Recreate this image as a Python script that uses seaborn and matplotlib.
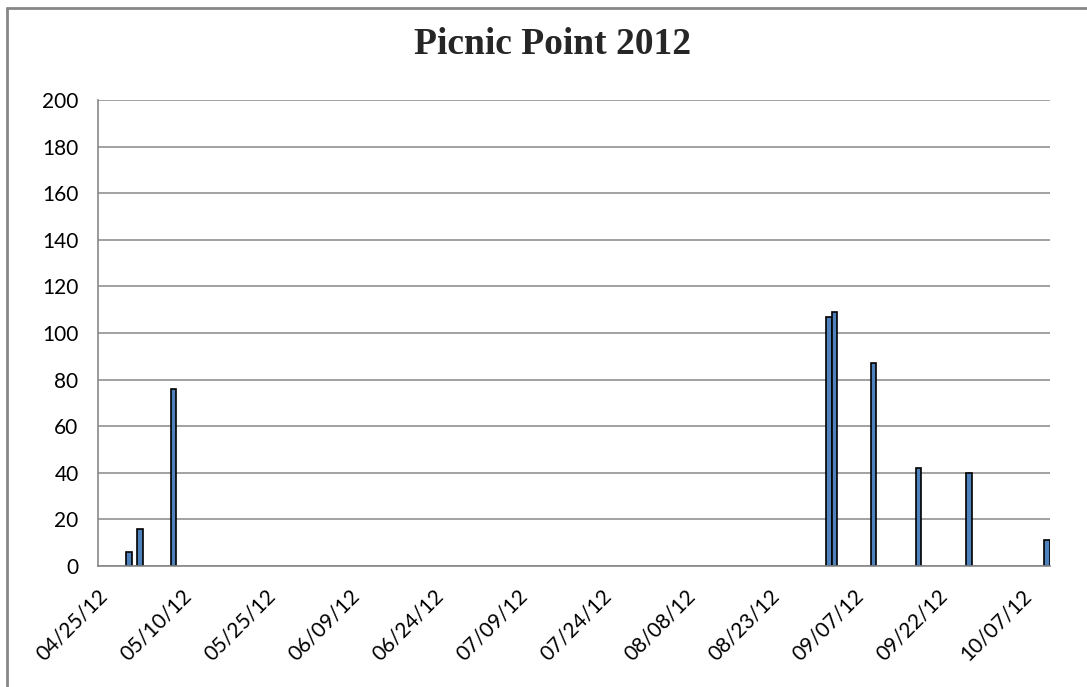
import datetime as dt
import matplotlib
matplotlib.use("Agg")
import matplotlib.pyplot as plt
import matplotlib.dates as mdates
import matplotlib.transforms as mtransforms
from matplotlib.lines import Line2D
import pandas as pd
import seaborn as sns

# =========================
# data
# =========================
visit_dates = ["2012-04-30", "2012-05-02", "2012-05-08", "2012-09-02", "2012-09-03",
               "2012-09-10", "2012-09-18", "2012-09-27", "2012-10-11"]
counts = [6, 16, 76, 107, 109, 87, 42, 40, 11]

tick_dates = ["2012-04-25", "2012-05-10", "2012-05-25", "2012-06-09", "2012-06-24",
              "2012-07-09", "2012-07-24", "2012-08-08", "2012-08-23", "2012-09-07",
              "2012-09-22", "2012-10-07"]
y_ticks = list(range(0, 201, 20))

df = pd.DataFrame({"date": pd.to_datetime(visit_dates), "count": counts})
df["x"] = mdates.date2num(df["date"].dt.to_pydatetime())

# =========================
# style
# =========================
sns.set_theme(style="white")
plt.rcParams["font.family"] = ["Lato", "DejaVu Sans"]
grey = "#878787"

fig = plt.figure(figsize=(10.87, 6.87), dpi=100)
ax = fig.add_axes([98 / 1087, 1 - 566 / 687, (1050 - 98) / 1087, (566 - 100) / 687])

sns.barplot(data=df, x="x", y="count", native_scale=True, orient="x",
            color="#4F81BD", saturation=1, width=0.98, errorbar=None,
            edgecolor="black", linewidth=1.2, ax=ax, zorder=3)

# Excel date axis: each day is a slot, ticks on slot boundaries
start = mdates.date2num(dt.datetime(2012, 4, 25)) - 0.5
end = mdates.date2num(dt.datetime(2012, 10, 11)) + 0.5
ax.set_xlim(start, end)
ax.set_ylim(0, 200)

tick_pos = [mdates.date2num(pd.Timestamp(d).to_pydatetime()) - 0.5 for d in tick_dates]
tick_lab = [pd.Timestamp(d).strftime("%m/%d/%y") for d in tick_dates]
ax.set_xticks(tick_pos)
ax.set_xticklabels([])

# rotated date labels, placed a bit right of / below each tick like Excel
offset = mtransforms.ScaledTranslation(6 / 100, -27 / 100, fig.dpi_scale_trans)
for pos, lab in zip(tick_pos, tick_lab):
    ax.text(pos, 0, lab, transform=ax.get_xaxis_transform() + offset,
            rotation=45, ha="right", va="center", rotation_mode="anchor",
            fontsize=15, color="black")

ax.set_yticks(y_ticks)
ax.set_yticklabels([str(v) for v in y_ticks], fontsize=15)

ax.tick_params(axis="both", which="major", direction="out", length=6, width=1.2,
               color=grey, labelcolor="black")
ax.tick_params(axis="y", pad=8)

ax.grid(axis="y", color=grey, linewidth=1.1, zorder=0)
ax.grid(axis="x", visible=False)
ax.set_axisbelow(True)

for side in ["top", "right"]:
    ax.spines[side].set_visible(False)
for side in ["left", "bottom"]:
    ax.spines[side].set_color(grey)
    ax.spines[side].set_linewidth(1.2)
    ax.spines[side].set_zorder(4)

ax.set_xlabel("")
ax.set_ylabel("")

fig.text(553 / 1087, 1 - 45 / 687, "Picnic Point 2012", ha="center", va="center",
         fontsize=27, fontweight="bold", family=["Liberation Serif", "DejaVu Serif"])

# chart area frame (only top and left edges are visible in the crop)
fig.add_artist(Line2D([7 / 1087, 7 / 1087], [0, 1 - 8 / 687], transform=fig.transFigure,
                      color=grey, linewidth=2))
fig.add_artist(Line2D([7 / 1087, 1], [1 - 8 / 687, 1 - 8 / 687], transform=fig.transFigure,
                      color=grey, linewidth=2))

fig.savefig("out.png", dpi=100)
